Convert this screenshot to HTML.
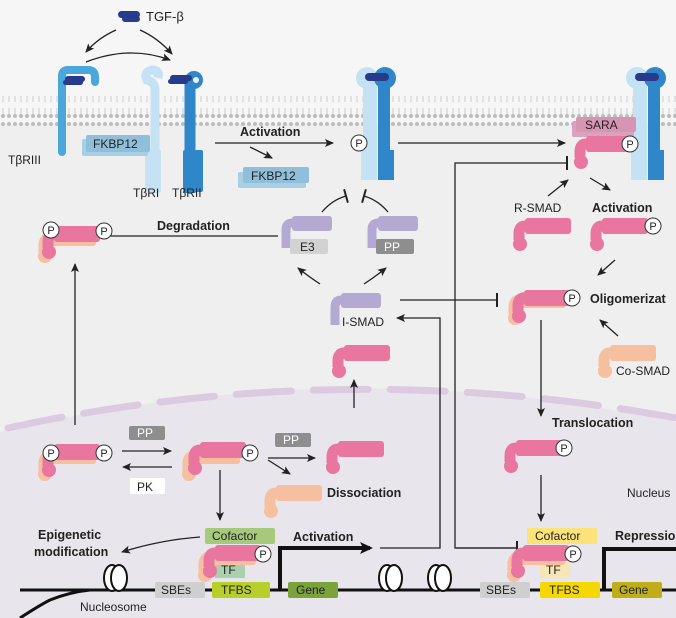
<!DOCTYPE html>
<html><head><meta charset="utf-8"><style>
html,body{margin:0;padding:0;background:#f5f5f5}
svg{display:block}
text{font-family:"Liberation Sans",Arial,sans-serif;fill:#222}
.b{font-weight:bold;font-size:12.5px}
.s{font-size:12px}
</style></head><body>
<svg width="676" height="618" viewBox="0 0 676 618" xmlns="http://www.w3.org/2000/svg">
<defs>
<marker id="ah" markerWidth="10" markerHeight="10" refX="8" refY="5" orient="auto" markerUnits="userSpaceOnUse"><path d="M0,1 L9,5 L0,9 L2,5 Z" fill="#222"/></marker>
<marker id="ahb" markerWidth="14" markerHeight="14" refX="10" refY="7" orient="auto" markerUnits="userSpaceOnUse"><path d="M0,1 L13,7 L0,13 L3,7 Z" fill="#111"/></marker>
<marker id="tb" markerWidth="4" markerHeight="14" refX="2" refY="7" orient="auto" markerUnits="userSpaceOnUse"><rect x="1" y="0" width="2" height="14" fill="#222"/></marker>
<g id="smad">
<rect x="10" y="0" width="46" height="16" rx="3"/>
<path d="M16 8 H10 Q4 8 4 16 V22" stroke="currentColor" stroke-width="11" fill="none"/>
<circle cx="5" cy="26" r="7"/>
</g>
<g id="pc"><circle r="8" fill="#fff" stroke="#333" stroke-width="1"/><text x="0" y="4" text-anchor="middle" font-size="11">P</text></g>
<g id="ism" fill="#b3a9d3"><rect x="10" y="0" width="40" height="15" rx="3"/><path d="M14 7 H10 Q4 7 4 14 V32" stroke="#b3a9d3" stroke-width="9" fill="none"/></g>
<g id="rec">
<path d="M370,180 V85" stroke="#c4e2f4" stroke-width="14"/>
<circle cx="367" cy="78" r="11" fill="#c4e2f4"/>
<path d="M384,180 V85" stroke="#2f86c8" stroke-width="12"/>
<circle cx="385" cy="78" r="11" fill="#2f86c8"/>
<rect x="361" y="145" width="14" height="35" fill="#c4e2f4"/><rect x="380" y="150" width="14" height="30" fill="#2f86c8"/>
<rect x="365" y="73" width="24" height="8" rx="4" fill="#283a8c"/>
</g>
<pattern id="lip" width="6" height="30" patternUnits="userSpaceOnUse"><circle cx="3" cy="4" r="2" fill="#bdbdbd"/><line x1="3" y1="6" x2="3" y2="12" stroke="#ccc"/><line x1="3" y1="18" x2="3" y2="24" stroke="#ccc"/><circle cx="3" cy="26" r="2" fill="#bdbdbd"/></pattern>
</defs>

<rect x="0" y="0" width="676" height="618" fill="#f6f6f6"/>
<rect x="0" y="124" width="676" height="494" fill="#efeff0"/>
<path d="M0,432 Q340,350 676,422 L676,618 L0,618 Z" fill="#e8e6ec"/>
<path d="M8,428 Q340,356 676,418" fill="none" stroke="#dccbe0" stroke-width="7" stroke-dasharray="55,22" stroke-linecap="round"/>
<rect x="0" y="96" width="676" height="30" fill="url(#lip)"/>

<rect x="118" y="11" width="22" height="7" rx="3.5" fill="#283a8c"/><rect x="122" y="16" width="18" height="6" rx="3" fill="#283a8c"/>
<text x="146" y="21" font-size="13">TGF-β</text>
<path d="M116,30 Q98,38 86,52" fill="none" stroke="#222" stroke-width="1.3" marker-end="url(#ah)"/>
<path d="M140,30 Q158,38 172,54" fill="none" stroke="#222" stroke-width="1.3" marker-end="url(#ah)"/>
<path d="M86,62 Q130,45 170,60" fill="none" stroke="#222" stroke-width="1.3" marker-end="url(#ah)"/>

<path d="M62,152 V76 Q62,70 68,70 H88 Q95,70 95,77 V82" fill="none" stroke="#49a7dc" stroke-width="8" stroke-linecap="round"/>
<rect x="65" y="76" width="20" height="6" rx="3" fill="#283a8c"/><rect x="63" y="80" width="20" height="5" rx="2.5" fill="#283a8c"/>
<text x="8" y="164" class="s">TβRIII</text>
<path d="M155,193 V90 Q155,82 147,80 Q143,72 152,70 Q160,70 158,78" fill="none" stroke="#c4e2f4" stroke-width="9"/>
<rect x="145" y="150" width="16" height="42" fill="#c4e2f4"/>
<path d="M190,193 V80" stroke="#2f86c8" stroke-width="11"/>
<circle cx="194" cy="80" r="9" fill="#2f86c8"/><circle cx="196" cy="80" r="3" fill="#efeff0"/>
<rect x="183" y="150" width="20" height="42" rx="2" fill="#2f86c8"/>
<rect x="170" y="75" width="22" height="6" rx="3" fill="#283a8c"/><rect x="168" y="79" width="20" height="5" rx="2.5" fill="#283a8c"/>
<rect x="82" y="139" width="66" height="17" rx="2" fill="#a8cfe4"/><rect x="86" y="135" width="64" height="17" rx="2" fill="#8fbfdb"/>
<text x="93" y="148" class="s">FKBP12</text>
<text x="133" y="197" class="s">TβRI</text><text x="172" y="197" class="s">TβRII</text>

<text x="240" y="136" class="b">Activation</text>
<line x1="215" y1="143" x2="333" y2="143" stroke="#222" stroke-width="1.3" marker-end="url(#ah)"/>
<line x1="250" y1="147" x2="272" y2="158" stroke="#222" stroke-width="1.3" marker-end="url(#ah)"/>
<rect x="238" y="172" width="68" height="16" rx="2" fill="#a8cfe4"/><rect x="243" y="167" width="66" height="16" rx="2" fill="#8fbfdb"/>
<text x="251" y="180" class="s">FKBP12</text>

<use href="#rec" x="0" y="0"/>
<use href="#pc" x="359" y="143"/>
<line x1="398" y1="143" x2="565" y2="143" stroke="#222" stroke-width="1.3" marker-end="url(#ah)"/>
<use href="#rec" x="270" y="0"/>
<rect x="572" y="121" width="62" height="16" rx="2" fill="#dba2bd"/><rect x="576" y="117" width="60" height="15" rx="2" fill="#d795b4"/>
<text x="585" y="129" class="s">SARA</text>
<use href="#smad" x="576" y="136" style="color:#e8769f;fill:#e8769f"/>
<use href="#pc" x="630" y="144"/>

<polyline points="517,548 455,548 455,163 567,163" fill="none" stroke="#222" stroke-width="1.3" marker-end="url(#tb)"/>
<line x1="456" y1="548" x2="517" y2="548" stroke="#222" stroke-width="1.3" marker-end="url(#tb)"/>
<line x1="548" y1="196" x2="568" y2="180" stroke="#222" stroke-width="1.3" marker-end="url(#ah)"/>
<line x1="590" y1="178" x2="610" y2="190" stroke="#222" stroke-width="1.3" marker-end="url(#ah)"/>
<text x="514" y="212" class="s">R-SMAD</text><text x="592" y="212" class="b">Activation</text>
<use href="#smad" x="515" y="218" style="color:#e8769f;fill:#e8769f"/>
<use href="#smad" x="592" y="218" style="color:#e8769f;fill:#e8769f"/>
<use href="#pc" x="653" y="226"/>
<line x1="615" y1="260" x2="598" y2="275" stroke="#222" stroke-width="1.3" marker-end="url(#ah)"/>
<use href="#smad" x="510" y="292" style="color:#f5bfa0;fill:#f5bfa0"/>
<use href="#smad" x="514" y="290" style="color:#e8769f;fill:#e8769f"/>
<use href="#pc" x="572" y="298"/>
<text x="590" y="303" class="b">Oligomerizat</text>
<line x1="618" y1="336" x2="600" y2="320" stroke="#222" stroke-width="1.3" marker-end="url(#ah)"/>
<use href="#smad" x="600" y="345" style="color:#f5bfa0;fill:#f5bfa0"/>
<text x="616" y="375" class="s">Co-SMAD</text>

<use href="#ism" x="331" y="293"/>
<text x="342" y="326" class="s">I-SMAD</text>
<use href="#ism" x="282" y="216"/><rect x="290" y="239" width="38" height="15" rx="2" fill="#d2d2d2"/><text x="300" y="251" class="s">E3</text>
<use href="#ism" x="368" y="216"/><rect x="376" y="239" width="38" height="15" rx="2" fill="#8e8e8e"/><text x="384" y="251" class="s" style="fill:#fff">PP</text>
<path d="M320,284 Q308,276 298,268" fill="none" stroke="#222" stroke-width="1.3" marker-end="url(#ah)"/>
<path d="M364,284 Q376,276 386,268" fill="none" stroke="#222" stroke-width="1.3" marker-end="url(#ah)"/>
<path d="M322,212 Q332,200 346,196" fill="none" stroke="#222" stroke-width="1.3" marker-end="url(#tb)"/>
<path d="M388,212 Q378,200 364,196" fill="none" stroke="#222" stroke-width="1.3" marker-end="url(#tb)"/>
<line x1="400" y1="300" x2="497" y2="300" stroke="#222" stroke-width="1.3" marker-end="url(#tb)"/>
<line x1="278" y1="236" x2="95" y2="236" stroke="#222" stroke-width="1.3" marker-end="url(#tb)"/>
<text x="157" y="230" class="b">Degradation</text>
<use href="#smad" x="40" y="230" style="color:#f5bfa0;fill:#f5bfa0"/>
<use href="#smad" x="44" y="226" style="color:#e8769f;fill:#e8769f"/>
<use href="#pc" x="51" y="230"/><use href="#pc" x="104" y="231"/>
<line x1="75" y1="425" x2="75" y2="264" stroke="#222" stroke-width="1.3" marker-end="url(#ah)"/>
<use href="#smad" x="334" y="345" style="color:#e8769f;fill:#e8769f"/>
<line x1="354" y1="408" x2="354" y2="380" stroke="#222" stroke-width="1.3" marker-end="url(#ah)"/>
<polyline points="380,548 440,548 440,318 397,318" fill="none" stroke="#222" stroke-width="1.3" marker-end="url(#ah)"/>
<line x1="541" y1="320" x2="541" y2="416" stroke="#222" stroke-width="1.3" marker-end="url(#ah)"/>
<text x="552" y="427" class="b">Translocation</text>

<use href="#smad" x="40" y="448" style="color:#f5bfa0;fill:#f5bfa0"/>
<use href="#smad" x="44" y="444" style="color:#e8769f;fill:#e8769f"/>
<use href="#pc" x="51" y="453"/><use href="#pc" x="104" y="453"/>
<rect x="129" y="426" width="36" height="14" rx="2" fill="#8e8e8e"/><text x="137" y="437" class="s" style="fill:#fff">PP</text>
<line x1="122" y1="451" x2="171" y2="451" stroke="#222" stroke-width="1.3" marker-end="url(#ah)"/>
<line x1="172" y1="467" x2="123" y2="467" stroke="#222" stroke-width="1.3" marker-end="url(#ah)"/>
<rect x="130" y="478" width="35" height="16" rx="2" fill="#fff"/><text x="137" y="491" class="s">PK</text>
<use href="#smad" x="184" y="448" style="color:#f5bfa0;fill:#f5bfa0"/>
<use href="#smad" x="190" y="442" style="color:#e8769f;fill:#e8769f"/>
<use href="#pc" x="250" y="453"/>
<rect x="275" y="433" width="36" height="14" rx="2" fill="#8e8e8e"/><text x="283" y="444" class="s" style="fill:#fff">PP</text>
<line x1="268" y1="458" x2="315" y2="458" stroke="#222" stroke-width="1.3" marker-end="url(#ah)"/>
<line x1="268" y1="460" x2="290" y2="474" stroke="#222" stroke-width="1.3" marker-end="url(#ah)"/>
<use href="#smad" x="328" y="441" style="color:#e8769f;fill:#e8769f"/>
<use href="#smad" x="266" y="485" style="color:#f5bfa0;fill:#f5bfa0"/>
<text x="327" y="497" class="b">Dissociation</text>
<line x1="220" y1="470" x2="220" y2="520" stroke="#222" stroke-width="1.3" marker-end="url(#ah)"/>
<rect x="205" y="528" width="70" height="16" rx="2" fill="#a7c97c"/><text x="212" y="540" class="s">Cofactor</text>
<text x="38" y="539" class="b">Epigenetic</text><text x="34" y="556" class="b">modification</text>
<path d="M200,537 Q160,540 122,552" fill="none" stroke="#222" stroke-width="1.3" marker-end="url(#ah)"/>
<rect x="215" y="562" width="30" height="16" fill="#a9d1b0"/><text x="221" y="574" class="s">TF</text>
<use href="#smad" x="200" y="549" style="color:#f5bfa0;fill:#f5bfa0"/>
<use href="#smad" x="205" y="545" style="color:#e8769f;fill:#e8769f"/>
<use href="#pc" x="263" y="554"/>

<line x1="20" y1="590" x2="676" y2="590" stroke="#111" stroke-width="3"/>
<path d="M20,618 Q40,605 50,600 Q70,592 90,590" fill="none" stroke="#111" stroke-width="3"/>
<g fill="#fff" stroke="#111" stroke-width="2">
<ellipse cx="112" cy="578" rx="8" ry="13"/><ellipse cx="119" cy="578" rx="8" ry="13"/>
<ellipse cx="387" cy="578" rx="8" ry="13"/><ellipse cx="394" cy="578" rx="8" ry="13"/>
<ellipse cx="436" cy="578" rx="8" ry="13"/><ellipse cx="443" cy="578" rx="8" ry="13"/>
</g>
<text x="80" y="611" class="s">Nucleosome</text>
<rect x="155" y="582" width="50" height="16" rx="2" fill="#cfcfcf"/><text x="161" y="594" class="s">SBEs</text>
<rect x="212" y="582" width="58" height="16" rx="2" fill="#b8cf2a"/><text x="221" y="594" class="s">TFBS</text>
<rect x="288" y="582" width="50" height="16" rx="2" fill="#7aa33a"/><text x="296" y="594" class="s">Gene</text>
<polyline points="280,590 280,548 370,548" fill="none" stroke="#111" stroke-width="4" marker-end="url(#ahb)"/>
<text x="293" y="541" class="b">Activation</text>

<use href="#smad" x="506" y="440" style="color:#e8769f;fill:#e8769f"/>
<use href="#pc" x="564" y="448"/>
<line x1="541" y1="475" x2="541" y2="521" stroke="#222" stroke-width="1.3" marker-end="url(#ah)"/>
<text x="627" y="497" class="s">Nucleus</text>
<rect x="527" y="528" width="70" height="16" rx="2" fill="#fbe37a"/><text x="535" y="540" class="s">Cofactor</text>
<text x="615" y="540" class="b">Repressio</text>
<rect x="540" y="562" width="30" height="16" fill="#f6e5b5"/><text x="546" y="574" class="s">TF</text>
<use href="#smad" x="509" y="549" style="color:#f5bfa0;fill:#f5bfa0"/>
<use href="#smad" x="513" y="545" style="color:#e8769f;fill:#e8769f"/>
<use href="#pc" x="573" y="554"/>
<rect x="480" y="582" width="50" height="16" rx="2" fill="#cfcfcf"/><text x="486" y="594" class="s">SBEs</text>
<rect x="540" y="582" width="60" height="16" rx="2" fill="#f5d800"/><text x="549" y="594" class="s">TFBS</text>
<rect x="612" y="582" width="50" height="16" rx="2" fill="#bfae1a"/><text x="619" y="594" class="s">Gene</text>
<polyline points="604,590 604,549 676,549" fill="none" stroke="#111" stroke-width="4"/>
</svg>
</body></html>
